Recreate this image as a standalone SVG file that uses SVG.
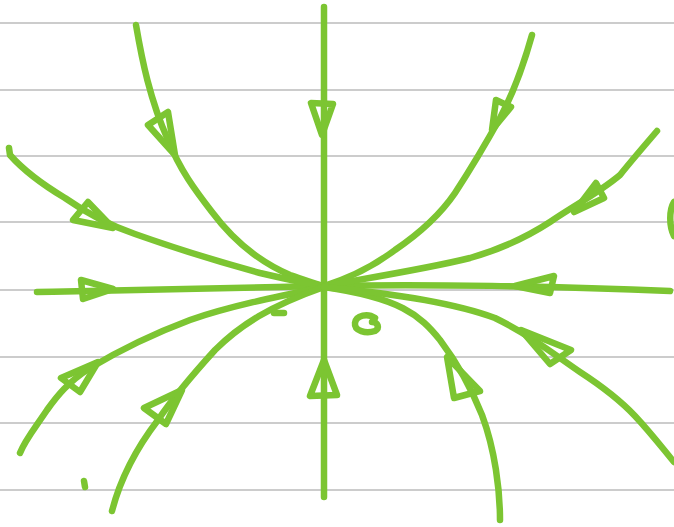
<svg xmlns="http://www.w3.org/2000/svg" width="674" height="527" viewBox="0 0 674 527">
<style>
.grid{stroke:#cccccc;stroke-width:2;fill:none}
.s{stroke:#7cc532;stroke-width:6.5;fill:none;stroke-linecap:round;stroke-linejoin:round}
</style>
<rect width="674" height="527" fill="#ffffff"/>
<g id="grid">
<line class="grid" x1="0" y1="23" x2="674" y2="23"/>
<line class="grid" x1="0" y1="90" x2="674" y2="90"/>
<line class="grid" x1="0" y1="156" x2="674" y2="156"/>
<line class="grid" x1="0" y1="222" x2="674" y2="222"/>
<line class="grid" x1="0" y1="290" x2="674" y2="290"/>
<line class="grid" x1="0" y1="357" x2="674" y2="357"/>
<line class="grid" x1="0" y1="423" x2="674" y2="423"/>
<line class="grid" x1="0" y1="490" x2="674" y2="490"/>
</g>
<g id="trajectories">
<path class="s" d="M324 7 L324 497"/>
<path class="s" d="M37 292 C120 290 200 289 324 286 C420 284 560 286 670 291"/>
<path class="s" d="M136 25 C142 60 150 100 168 140 C180 170 195 190 212 212 C230 236 255 260 290 275 C305 280 315 284 324 286"/>
<path class="s" d="M9 148 L10 155 C25 172 45 186 65 198 C85 212 105 224 135 234 C180 250 220 262 260 273 C290 280 310 284 324 286"/>
<path class="s" d="M532 35 C525 60 515 90 500 118 C485 145 470 170 455 193 C440 215 420 233 395 250 C375 265 350 278 324 286"/>
<path class="s" d="M657 131 C645 145 632 160 620 175 C600 192 575 205 550 222 C530 235 505 248 470 258 C430 268 380 276 324 286"/>
<path class="s" d="M20 453 C25 440 35 428 47 410 C57 396 68 382 90 368 C120 350 150 335 190 320 C230 306 280 296 324 287"/>
<path class="s" d="M112 511 C120 480 135 450 158 420 C175 395 195 372 215 350 C240 325 270 306 324 287"/>
<path class="s" d="M500 520 C500 490 495 450 482 415 C470 385 455 360 440 340 C420 315 400 298 324 287"/>
<path class="s" d="M674 462 C660 445 650 432 635 416 C620 400 600 385 580 372 C555 355 530 335 495 318 C460 305 410 295 324 287"/>
<path class="s" d="M674 202 C669 210 669 226 674 236"/>
</g>
<g id="arrows">
<path class="s" d="M311 103 L333 104 L322 135 Z"/>
<path class="s" d="M324 360 L310 396 L337 395 Z"/>
<path class="s" d="M81 280 L83 299 L113 289 Z"/>
<path class="s" d="M515 286 L554 276 L550 293 Z"/>
<path class="s" d="M148 125 L168 112 L175 155 Z"/>
<path class="s" d="M73 220 L88 202 L113 228 Z"/>
<path class="s" d="M496 100 L511 107 L492 130 Z"/>
<path class="s" d="M596 183 L604 198 L574 212 Z"/>
<path class="s" d="M61 378 L98 362 L80 392 Z"/>
<path class="s" d="M144 408 L182 390 L166 424 Z"/>
<path class="s" d="M447 357 L454 398 L480 391 Z"/>
<path class="s" d="M521 330 L571 350 L550 364 Z"/>
</g>
<g id="marks">
<path class="s" d="M274 313 L284 313"/>
<path class="s" d="M84 481 L85 487"/>
<path class="s" d="M375 318 C368 313 356 315 355 323 C354 331 366 334 375 331 C380 328 378 322 372 322"/>
</g>
</svg>
